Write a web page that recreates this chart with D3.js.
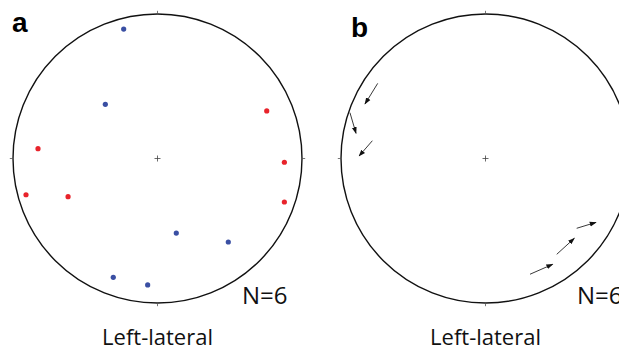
<!DOCTYPE html>
<html>
<head>
<meta charset="utf-8">
<script src="https://cdn.jsdelivr.net/npm/d3@7"></script>
<style>
  body { margin: 0; background: #fff; }
  svg { display: block; }
</style>
</head>
<body>
<figure id="nets" style="margin:0"></figure>
<script>
// P / T axes, unit-circle coords (x east, y north) on the lower-hemisphere net
const blueX = [-0.234, -0.361, 0.130, 0.490, -0.306, -0.068];
const blueY = [0.896, 0.375, -0.516, -0.578, -0.822, -0.875];
const redX = [0.756, 0.878, -0.827, -0.910, -0.619, 0.878];
const redY = [0.329, -0.026, 0.068, -0.251, -0.264, -0.301];

// slip vectors (tail -> head)
const arrowX0 = [-0.746, -0.938, -0.783, 0.631, 0.493, 0.308];
const arrowY0 = [0.520, 0.317, 0.123, -0.483, -0.663, -0.801];
const arrowX1 = [-0.834, -0.896, -0.875, 0.765, 0.615, 0.465];
const arrowY1 = [0.377, 0.174, 0.017, -0.442, -0.552, -0.732];

const panelLabels = ['a', 'b'];
const countLabel = 'N=6';
const typeLabel = 'Left-lateral';

const width = 619, height = 350;
const radius = 144.5;
const centers = [[157.5, 158.5], [485.5, 158.5]];

const svg = d3.select('figure#nets')
  .append('svg')
  .attr('width', width)
  .attr('height', height);

svg.append('defs').append('marker')
  .attr('id', 'head')
  .attr('viewBox', '0 0 10 10')
  .attr('refX', 9)
  .attr('refY', 5)
  .attr('markerWidth', 7)
  .attr('markerHeight', 7)
  .attr('markerUnits', 'userSpaceOnUse')
  .attr('orient', 'auto')
  .append('path')
  .attr('d', 'M0,1.5 L10,5 L0,8.5 Z')
  .attr('fill', '#111');

const x = d3.scaleLinear().domain([-1, 1]).range([-radius, radius]);
const y = d3.scaleLinear().domain([-1, 1]).range([radius, -radius]);

function drawNet(i) {
  const g = svg.append('g')
    .attr('transform', 'translate(' + centers[i][0] + ',' + centers[i][1] + ')');

  g.append('circle')
    .attr('r', radius)
    .attr('fill', 'none')
    .attr('stroke', '#111')
    .attr('stroke-width', 1.4);

  // N E S W ticks, outside the primitive
  [[0, 1], [1, 0], [0, -1], [-1, 0]].forEach(d => {
    g.append('line')
      .attr('x1', x(d[0])).attr('y1', y(d[1]))
      .attr('x2', x(d[0] * 1.022)).attr('y2', y(d[1] * 1.022))
      .attr('stroke', '#555')
      .attr('stroke-width', 0.8);
  });

  // centre cross
  g.append('path')
    .attr('d', 'M-3,0H3M0,-3V3')
    .attr('stroke', '#444')
    .attr('stroke-width', 0.8);

  return g;
}

// panel a: dots
const ga = drawNet(0);
ga.selectAll('.blue')
  .data(d3.range(blueX.length))
  .enter()
  .append('circle')
  .attr('cx', d => x(blueX[d]))
  .attr('cy', d => y(blueY[d]))
  .attr('r', 2.6)
  .attr('fill', '#3a4fa3');

ga.selectAll('.red')
  .data(d3.range(redX.length))
  .enter()
  .append('circle')
  .attr('cx', d => x(redX[d]))
  .attr('cy', d => y(redY[d]))
  .attr('r', 2.6)
  .attr('fill', '#e8232b');

// panel b: arrows
const gb = drawNet(1);
gb.selectAll('.arrow')
  .data(d3.range(arrowX0.length))
  .enter()
  .append('line')
  .attr('x1', d => x(arrowX0[d]))
  .attr('y1', d => y(arrowY0[d]))
  .attr('x2', d => x(arrowX1[d]))
  .attr('y2', d => y(arrowY1[d]))
  .attr('stroke', '#222')
  .attr('stroke-width', 0.9)
  .attr('marker-end', 'url(#head)');

// texts
const labelPos = [[12, 32], [351, 37]];
const countPos = [[242, 304], [577, 304]];
panelLabels.forEach((t, i) => {
  svg.append('text')
    .attr('x', labelPos[i][0])
    .attr('y', labelPos[i][1])
    .attr('font-family', 'Liberation Sans, Arial, sans-serif')
    .attr('font-weight', 'bold')
    .attr('font-size', 28)
    .text(t);

  svg.append('text')
    .attr('x', countPos[i][0])
    .attr('y', countPos[i][1])
    .attr('font-family', 'Open Sans, sans-serif')
    .attr('font-size', 24)
    .attr('fill', '#111')
    .text(countLabel);

  svg.append('text')
    .attr('x', centers[i][0])
    .attr('y', 345)
    .attr('text-anchor', 'middle')
    .attr('font-family', 'Open Sans, sans-serif')
    .attr('font-size', 22)
    .attr('fill', '#111')
    .text(typeLabel);
});
</script>
</body>
</html>
